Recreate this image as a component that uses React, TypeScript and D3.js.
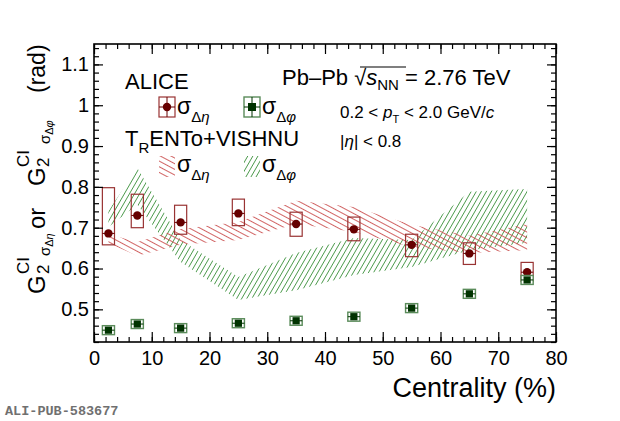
import { useEffect, useRef } from 'react'
import * as d3 from 'd3'

// ALICE data points, G2 width in rad vs centrality
const centrality = [2.5, 7.5, 15, 25, 35, 45, 55, 65, 75]
const sigmaEta = [0.686, 0.730, 0.713, 0.735, 0.709, 0.696, 0.658, 0.637, 0.591]
const sigmaEtaSysLow = [0.658, 0.700, 0.684, 0.705, 0.679, 0.668, 0.629, 0.610, 0.568]
const sigmaEtaSysHigh = [0.798, 0.782, 0.755, 0.770, 0.738, 0.726, 0.684, 0.663, 0.615]
const sigmaPhi = [0.449, 0.464, 0.454, 0.466, 0.472, 0.482, 0.503, 0.538, 0.572]
const sigmaPhiSys = [0.011, 0.011, 0.011, 0.011, 0.011, 0.011, 0.011, 0.011, 0.011]

// TRENTo+VISHNU bands
const modelEtaHigh = [0.684, 0.665, 0.697, 0.714, 0.766, 0.751, 0.707, 0.680, 0.709]
const modelEtaLow = [0.662, 0.631, 0.658, 0.670, 0.709, 0.690, 0.653, 0.638, 0.645]
const modelPhiHigh = [0.741, 0.846, 0.670, 0.579, 0.638, 0.675, 0.670, 0.788, 0.795]
const modelPhiLow = [0.702, 0.756, 0.616, 0.523, 0.547, 0.584, 0.604, 0.645, 0.663]

const xTicks = [0, 10, 20, 30, 40, 50, 60, 70, 80]
const xTickLabels = ['0', '10', '20', '30', '40', '50', '60', '70', '80']
const yTicks = [0.5, 0.6, 0.7, 0.8, 0.9, 1.0, 1.1]
const yTickLabels = ['0.5', '0.6', '0.7', '0.8', '0.9', '1', '1.1']

const FONT = '"Liberation Sans", Arial, Helvetica, sans-serif'

export default function App() {
  const svgRef = useRef<SVGSVGElement>(null)

  useEffect(() => {
    if (!svgRef.current) return
    const svg = d3.select(svgRef.current)
    svg.selectAll('*').remove()

    const left = 94, right = 556, top = 44, bottom = 342
    const x = d3.scaleLinear().domain([0, 80]).range([left, right])
    const y = d3.scaleLinear().domain([0.42, 1.15]).range([bottom, top])
    const halfW = 1.05

    const defs = svg.append('defs')
    const hatch = (id: string, color: string, angle: number, gap: number) => {
      defs.append('pattern')
        .attr('id', id)
        .attr('patternUnits', 'userSpaceOnUse')
        .attr('width', 10)
        .attr('height', gap)
        .attr('patternTransform', `rotate(${angle})`)
        .append('line')
        .attr('x1', 0).attr('x2', 10)
        .attr('y1', gap / 2).attr('y2', gap / 2)
        .attr('stroke', color)
        .attr('stroke-width', 0.9)
    }
    hatch('hatchEta', '#cc5252', 28, 5)
    hatch('hatchPhi', '#4c9a4c', -60, 4.4)

    svg.append('rect').attr('width', 620).attr('height', 421).attr('fill', 'white')

    // model bands
    const idx = d3.range(centrality.length)
    const band = (hi: number[], lo: number[]) =>
      d3.area<number>()
        .x(i => x(centrality[i]))
        .y0(i => y(lo[i]))
        .y1(i => y(hi[i]))(idx)

    svg.append('path').attr('d', band(modelPhiHigh, modelPhiLow)).attr('fill', 'url(#hatchPhi)')
    svg.append('path').attr('d', band(modelEtaHigh, modelEtaLow)).attr('fill', 'url(#hatchEta)')

    // sigma delta eta points
    const eta = svg.append('g')
    idx.forEach(i => {
      const c = centrality[i]
      eta.append('rect')
        .attr('x', x(c - halfW)).attr('width', x(c + halfW) - x(c - halfW))
        .attr('y', y(sigmaEtaSysHigh[i])).attr('height', y(sigmaEtaSysLow[i]) - y(sigmaEtaSysHigh[i]))
        .attr('fill', 'none').attr('stroke', '#993333').attr('stroke-width', 1.2)
      eta.append('line')
        .attr('x1', x(c - halfW)).attr('x2', x(c + halfW))
        .attr('y1', y(sigmaEta[i])).attr('y2', y(sigmaEta[i]))
        .attr('stroke', '#660000').attr('stroke-width', 1)
      eta.append('circle')
        .attr('cx', x(c)).attr('cy', y(sigmaEta[i])).attr('r', 4.2)
        .attr('fill', '#660000')
    })

    // sigma delta phi points
    const phi = svg.append('g')
    idx.forEach(i => {
      const c = centrality[i]
      const v = sigmaPhi[i]
      phi.append('rect')
        .attr('x', x(c - halfW)).attr('width', x(c + halfW) - x(c - halfW))
        .attr('y', y(v + sigmaPhiSys[i])).attr('height', y(v - sigmaPhiSys[i]) - y(v + sigmaPhiSys[i]))
        .attr('fill', 'white').attr('stroke', '#5b8c5b').attr('stroke-width', 1.4)
      phi.append('line')
        .attr('x1', x(c - halfW)).attr('x2', x(c + halfW))
        .attr('y1', y(v)).attr('y2', y(v))
        .attr('stroke', '#003300').attr('stroke-width', 1)
      phi.append('rect')
        .attr('x', x(c) - 3.6).attr('y', y(v) - 3.6)
        .attr('width', 7.2).attr('height', 7.2)
        .attr('fill', '#003300')
    })

    // frame and ticks
    const styleAxis = (g: d3.Selection<SVGGElement, unknown, null, undefined>) => {
      g.select('.domain').remove()
      g.selectAll('line').attr('stroke', 'black').attr('stroke-width', 1.2)
      g.selectAll('text').attr('font-family', FONT).attr('font-size', 20).attr('fill', 'black')
      g.attr('font-family', null).attr('font-size', null)
    }
    const xMinor = d3.range(0, 81, 2)
    const yMinor = d3.range(0.42, 1.151, 0.02)

    svg.append('g').attr('transform', `translate(0,${bottom})`)
      .call(d3.axisBottom(x).tickValues(xMinor).tickSizeInner(-5).tickSizeOuter(0).tickFormat(() => ''))
      .call(styleAxis)
    svg.append('g').attr('transform', `translate(0,${bottom})`)
      .call(d3.axisBottom(x).tickValues(xTicks).tickSizeInner(-10).tickSizeOuter(0).tickPadding(9)
        .tickFormat((_, i) => xTickLabels[i]))
      .call(styleAxis)
    svg.append('g').attr('transform', `translate(0,${top})`)
      .call(d3.axisTop(x).tickValues(xMinor).tickSizeInner(-5).tickSizeOuter(0).tickFormat(() => ''))
      .call(styleAxis)
    svg.append('g').attr('transform', `translate(0,${top})`)
      .call(d3.axisTop(x).tickValues(xTicks).tickSizeInner(-10).tickSizeOuter(0).tickFormat(() => ''))
      .call(styleAxis)

    svg.append('g').attr('transform', `translate(${left},0)`)
      .call(d3.axisLeft(y).tickValues(yMinor).tickSizeInner(-5).tickSizeOuter(0).tickFormat(() => ''))
      .call(styleAxis)
    svg.append('g').attr('transform', `translate(${left},0)`)
      .call(d3.axisLeft(y).tickValues(yTicks).tickSizeInner(-9).tickSizeOuter(0).tickPadding(5)
        .tickFormat((_, i) => yTickLabels[i]))
      .call(styleAxis)
    svg.append('g').attr('transform', `translate(${right},0)`)
      .call(d3.axisRight(y).tickValues(yMinor).tickSizeInner(-5).tickSizeOuter(0).tickFormat(() => ''))
      .call(styleAxis)
    svg.append('g').attr('transform', `translate(${right},0)`)
      .call(d3.axisRight(y).tickValues(yTicks).tickSizeInner(-9).tickSizeOuter(0).tickFormat(() => ''))
      .call(styleAxis)

    svg.append('rect')
      .attr('x', left).attr('y', top).attr('width', right - left).attr('height', bottom - top)
      .attr('fill', 'none').attr('stroke', 'black').attr('stroke-width', 1.6)

    // axis titles
    svg.append('text')
      .attr('x', right).attr('y', 397).attr('text-anchor', 'end')
      .attr('font-family', FONT).attr('font-size', 27)
      .text('Centrality (%)')

    const yt = svg.append('g').attr('transform', 'translate(45,0) rotate(-90)')
      .attr('font-family', FONT)
    const yPiece = (xr: number, yr: number, size: number, txt: string) =>
      yt.append('text').attr('x', xr).attr('y', yr).attr('font-size', size).text(txt)
    const ySub = (xr: number, greek: string) => {
      const t = yt.append('text').attr('x', xr).attr('y', 5).attr('font-size', 15)
      t.append('tspan').text('σ')
      t.append('tspan').attr('dy', 3).attr('font-size', 11).text('Δ')
      t.append('tspan').attr('font-size', 11).attr('font-style', 'italic').text(greek)
    }
    yPiece(-294, 0, 24, 'G')
    yPiece(-274, 4, 17, '2')
    yPiece(-274, -16, 17, 'CI')
    ySub(-256, 'η')
    yPiece(-229, 0, 24, 'or')
    yPiece(-186, 0, 24, 'G')
    yPiece(-167, 4, 17, '2')
    yPiece(-167, -16, 17, 'CI')
    ySub(-144, 'φ')
    yPiece(-93, 0, 23, '(rad)')

    // legend
    const lg = svg.append('g').attr('font-family', FONT)
    lg.append('text').attr('x', 125).attr('y', 89).attr('font-size', 22).text('ALICE')

    const sigmaLabel = (xp: number, yp: number, greek: string) => {
      const t = lg.append('text').attr('x', xp).attr('y', yp).attr('font-size', 23)
      t.append('tspan').text('σ')
      t.append('tspan').attr('dy', 8).attr('font-size', 15).text('Δ')
      t.append('tspan').attr('font-size', 15).attr('font-style', 'italic').text(greek)
    }

    lg.append('rect').attr('x', 159).attr('y', 97).attr('width', 16).attr('height', 20)
      .attr('fill', 'none').attr('stroke', '#993333').attr('stroke-width', 1.2)
    lg.append('line').attr('x1', 159).attr('x2', 175).attr('y1', 107).attr('y2', 107).attr('stroke', '#660000')
    lg.append('line').attr('x1', 167).attr('x2', 167).attr('y1', 97).attr('y2', 117).attr('stroke', '#660000')
    lg.append('circle').attr('cx', 167).attr('cy', 107).attr('r', 4.2).attr('fill', '#660000')
    sigmaLabel(177, 114, 'η')

    lg.append('rect').attr('x', 244).attr('y', 97).attr('width', 16).attr('height', 20)
      .attr('fill', 'white').attr('stroke', '#5b8c5b').attr('stroke-width', 1.4)
    lg.append('line').attr('x1', 244).attr('x2', 260).attr('y1', 107).attr('y2', 107).attr('stroke', '#003300')
    lg.append('line').attr('x1', 252).attr('x2', 252).attr('y1', 97).attr('y2', 117).attr('stroke', '#003300')
    lg.append('rect').attr('x', 248).attr('y', 103).attr('width', 8).attr('height', 8).attr('fill', '#003300')
    sigmaLabel(262, 114, 'φ')

    const tr = lg.append('text').attr('x', 125).attr('y', 146).attr('font-size', 22)
    tr.append('tspan').text('T')
    tr.append('tspan').attr('dy', 7).attr('font-size', 15).text('R')
    tr.append('tspan').attr('dy', -7).text('ENTo+VISHNU')

    lg.append('rect').attr('x', 159).attr('y', 156).attr('width', 16).attr('height', 21).attr('fill', 'url(#hatchEta)')
    sigmaLabel(177, 172, 'η')
    lg.append('rect').attr('x', 244).attr('y', 156).attr('width', 16).attr('height', 21).attr('fill', 'url(#hatchPhi)')
    sigmaLabel(262, 172, 'φ')

    // system label
    const sys = lg.append('text').attr('x', 282).attr('y', 85).attr('font-size', 22)
    sys.append('tspan').text('Pb–Pb ')
    sys.append('tspan').text('√')
    sys.append('tspan').attr('font-style', 'italic').text('s')
    sys.append('tspan').attr('dy', 5).attr('font-size', 15).text('NN')
    sys.append('tspan').attr('dy', -5).text(' = 2.76 TeV')
    lg.append('line').attr('x1', 360).attr('x2', 406).attr('y1', 67).attr('y2', 67)
      .attr('stroke', 'black').attr('stroke-width', 1.2)

    const pt = lg.append('text').attr('x', 340).attr('y', 118).attr('font-size', 17)
    pt.append('tspan').text('0.2 < ')
    pt.append('tspan').attr('font-style', 'italic').text('p')
    pt.append('tspan').attr('dy', 5).attr('font-size', 11).text('T')
    pt.append('tspan').attr('dy', -5).text(' < 2.0 GeV/')
    pt.append('tspan').attr('font-style', 'italic').text('c')

    const et = lg.append('text').attr('x', 340).attr('y', 147).attr('font-size', 17)
    et.append('tspan').text('|')
    et.append('tspan').attr('font-style', 'italic').text('η')
    et.append('tspan').text('| < 0.8')

    svg.append('text')
      .attr('x', 5).attr('y', 415)
      .attr('font-family', '"Liberation Mono", "DejaVu Sans Mono", monospace')
      .attr('font-size', 13.5).attr('font-weight', 'bold').attr('fill', '#707070')
      .text('ALI-PUB-583677')
  }, [])

  return (
    <svg
      ref={svgRef}
      width={620}
      height={421}
      style={{ position: 'absolute', left: 0, top: 0 }}
    />
  )
}
